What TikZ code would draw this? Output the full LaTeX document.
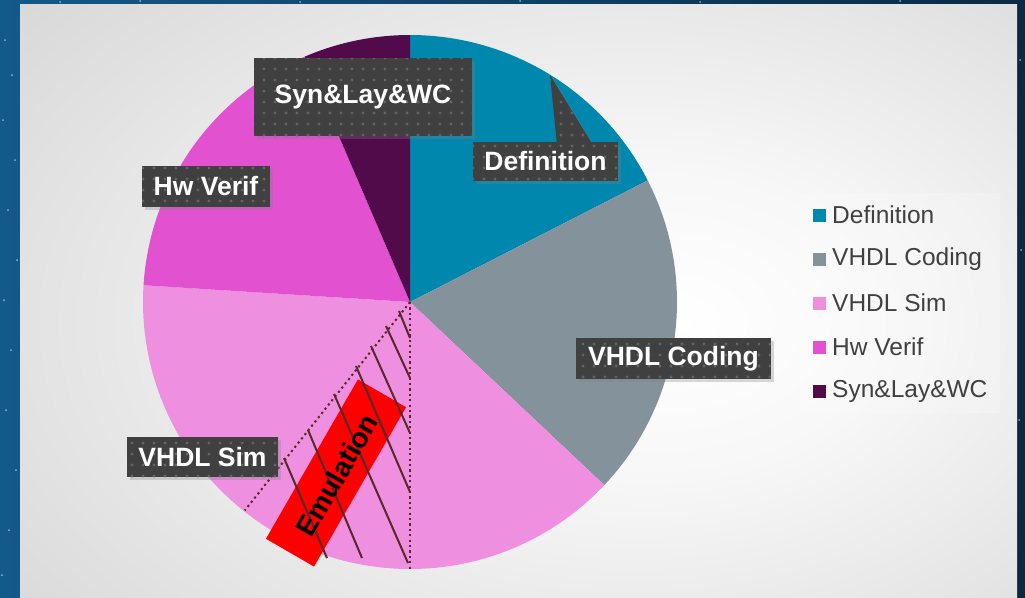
\documentclass[tikz,border=0pt]{standalone}
\usepackage{fontspec}
\setmainfont{Liberation Sans}
\usetikzlibrary{shadows,patterns.meta,calc}
\definecolor{defc}{HTML}{0087AD}
\definecolor{codc}{HTML}{84929B}
\definecolor{simc}{HTML}{EE8FE0}
\definecolor{hwc}{HTML}{E252D0}
\definecolor{sync}{HTML}{520B4A}
\definecolor{boxgray}{HTML}{404040}
\definecolor{dotgray}{HTML}{646464}
\definecolor{legtext}{HTML}{404040}
\definecolor{hatchc}{HTML}{5A2828}
\definecolor{bgdark}{HTML}{0A2A44}
\definecolor{bgleft}{HTML}{13598A}
\pgfdeclareradialshading{panelshade}{\pgfpoint{8bp}{0bp}}{color(0bp)=(white); color(12bp)=(white!97!black); color(40bp)=(white!84!black); color(70bp)=(white!78!black)}
\begin{document}
\begin{tikzpicture}[x=1pt,y=-1pt,
  lblfill/.style={fill=boxgray, drop shadow={shadow xshift=3pt,shadow yshift=-3pt,opacity=0.3},
    postaction={pattern={Dots[distance=11pt,radius=1.6pt]}, pattern color=dotgray}},
  lblbox/.style={lblfill, text=white, font=\fontsize{26.5}{30}\selectfont\bfseries, inner sep=0pt},
  legtxt/.style={text=legtext, font=\fontsize{24.5}{28}\selectfont, anchor=west, inner sep=0pt},
  legsq/.style={minimum size=13pt, inner sep=0pt},
  hatch/.style={hatchc, line width=2pt},
  divider/.style={hatchc, line width=2pt, dash pattern=on 2.2pt off 3.2pt}]
\useasboundingbox (0,0) rectangle (1025,597);
\clip (0,0) rectangle (1025,597);
% background
\shade[left color=bgleft, right color=bgdark] (0,0) rectangle (1025,597);
\foreach \sx/\sy in {5/40,12/75,3/120,15/160,8/210,17/260,4/300,11/350,6/410,16/470,9/530,2/575,60/2,140/1,300/2,520/1,700/2,900/1,1020/60,1021/250,1019/420}
  \fill[white, opacity=0.55] (\sx,\sy) circle (1);
% panel
\shade[shading=panelshade] (20,4) rectangle (1017,640);
% legend box
\fill[white, opacity=0.2] (800,193) rectangle (1000,413);
% pie
\begin{scope}[shift={(410,302)}, y=1pt]
  \coordinate (pc) at (0,0);
  \fill[defc] (pc) -- (90:267) arc[start angle=90,end angle=27.1,radius=267] -- cycle;
  \fill[codc] (pc) -- (27.1:267) arc[start angle=27.1,end angle=-43.3,radius=267] -- cycle;
  \fill[simc] (pc) -- (-43.3:267) arc[start angle=-43.3,end angle=-183.6,radius=267] -- cycle;
  \fill[hwc] (pc) -- (176.4:267) arc[start angle=176.4,end angle=113.2,radius=267] -- cycle;
  \fill[sync] (pc) -- (113.2:267) arc[start angle=113.2,end angle=90,radius=267] -- cycle;
  \coordinate (emA) at (231.6:266);
  \coordinate (emB) at (270:268);
\end{scope}
% emulation region
\node[fill=red, rotate=60, minimum width=184pt, minimum height=55.6pt, inner sep=0pt] (emubox) at (336,473) {};
\draw[hatch] (399,311) -- (410,338);
\draw[hatch] (386,326) -- (410,378);
\draw[hatch] (371,346) -- (410,433);
\draw[hatch] (356,366) -- (410,492);
\draw[hatch] (334,394) -- (408,563);
\draw[hatch] (308,430) -- (362,558);
\draw[hatch] (284,458) -- (327,558);
\draw[divider] (pc) -- (emA);
\draw[divider] (pc) -- (emB);
\node[rotate=60, inner sep=0pt, font=\fontsize{28}{30}\selectfont\bfseries] (emu) at (337,475) {Emulation};
% data labels
\node[lblbox, minimum width=218pt, minimum height=78pt] (synl) at (363,97) {Syn\&Lay\&WC};
\fill[lblfill] (557,145) -- (550,75) -- (593,145) -- cycle;
\node[lblbox, minimum width=145pt, minimum height=39pt] (defl) at (545.5,161.5) {Definition};
\node[lblbox, minimum width=128pt, minimum height=41pt] (hwl) at (206,186.5) {Hw Verif};
\node[lblbox, minimum width=195pt, minimum height=41pt] (codl) at (673.5,358.5) {VHDL Coding};
\node[lblbox, minimum width=151pt, minimum height=40pt] (siml) at (202.5,457) {VHDL Sim};
% legend
\node[legsq, fill=defc] (lq1) at (819.5,215) {};
\node[legtxt] (lt1) at (832,215) {Definition};
\node[legsq, fill=codc] (lq2) at (819.5,259) {};
\node[legtxt] (lt2) at (832,259) {VHDL Coding};
\node[legsq, fill=simc] (lq3) at (819.5,303) {};
\node[legtxt] (lt3) at (832,303) {VHDL Sim};
\node[legsq, fill=hwc] (lq4) at (819.5,347) {};
\node[legtxt] (lt4) at (832,347) {Hw Verif};
\node[legsq, fill=sync] (lq5) at (819.5,391) {};
\node[legtxt] (lt5) at (832,391) {Syn\&Lay\&WC};
\end{tikzpicture}
\end{document}
